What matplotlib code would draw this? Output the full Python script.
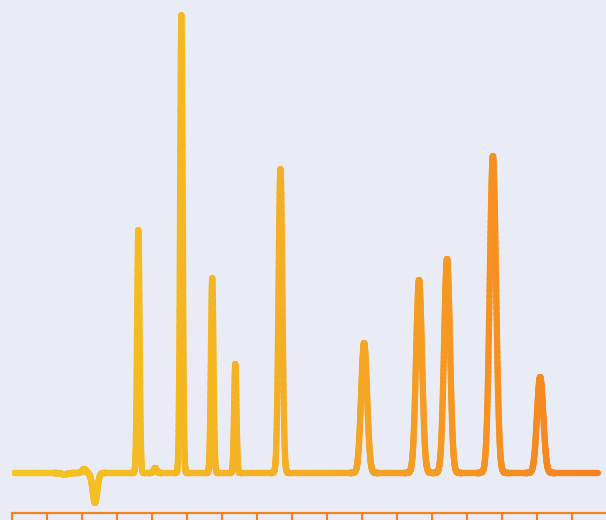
import numpy as np
import matplotlib
matplotlib.use('Agg')
import matplotlib.pyplot as plt
from matplotlib.collections import LineCollection
from matplotlib.colors import LinearSegmentedColormap

# Tabla de picos (tiempo de retención en min, altura, ancho sigma)
retention = [1.50, 2.06, 2.37, 3.61, 4.09, 4.84, 5.72, 6.38, 7.67, 10.06, 11.63, 12.43, 13.74, 15.09]
heights = [-1.5, 4, -30, 243, 5, 458, 195, 109, 304, 130, 193, 214, 317, 96]
widths = [0.08, 0.05, 0.065, 0.036, 0.04, 0.037, 0.037, 0.034, 0.055, 0.085, 0.085, 0.085, 0.09, 0.09]

t_start, t_end = 0.06, 16.74
tick_positions = list(range(0, 17))

t = np.linspace(t_start, t_end, 6000)
signal = np.zeros_like(t)
for rt, h, w in zip(retention, heights, widths):
    signal += h * np.exp(-0.5 * ((t - rt) / w) ** 2)

fig = plt.figure(figsize=(6.06, 5.20), dpi=100)
fig.patch.set_facecolor('#eaecf5')
ax = fig.add_axes([12 / 606, 7 / 520, 594 / 606, 513 / 520])
ax.set_facecolor('#eaecf5')

cmap = LinearSegmentedColormap.from_list('grad', ['#f3c622', '#f5ad24', '#f5821f'])
pts = np.column_stack([t, signal]).reshape(-1, 1, 2)
segs = np.concatenate([pts[:-1], pts[1:]], axis=1)
lc = LineCollection(segs, cmap=cmap, linewidths=4.5, capstyle='round', joinstyle='round')
lc.set_array((t[:-1] - t_start) / (t_end - t_start))
lc.set_clim(0, 1)
ax.add_collection(lc)

ax.set_xlim(0, 594 / 35)
ax.set_ylim(-40, 473)

for s in ['top', 'left', 'right']:
    ax.spines[s].set_visible(False)
ax.spines['bottom'].set_color('#f5821f')
ax.spines['bottom'].set_linewidth(1.6)
ax.set_xticks(tick_positions)
ax.set_yticks([])
ax.tick_params(axis='x', direction='out', length=5, width=1.5, color='#f5821f', labelbottom=False)

fig.savefig('out.png', dpi=100, facecolor=fig.get_facecolor())
